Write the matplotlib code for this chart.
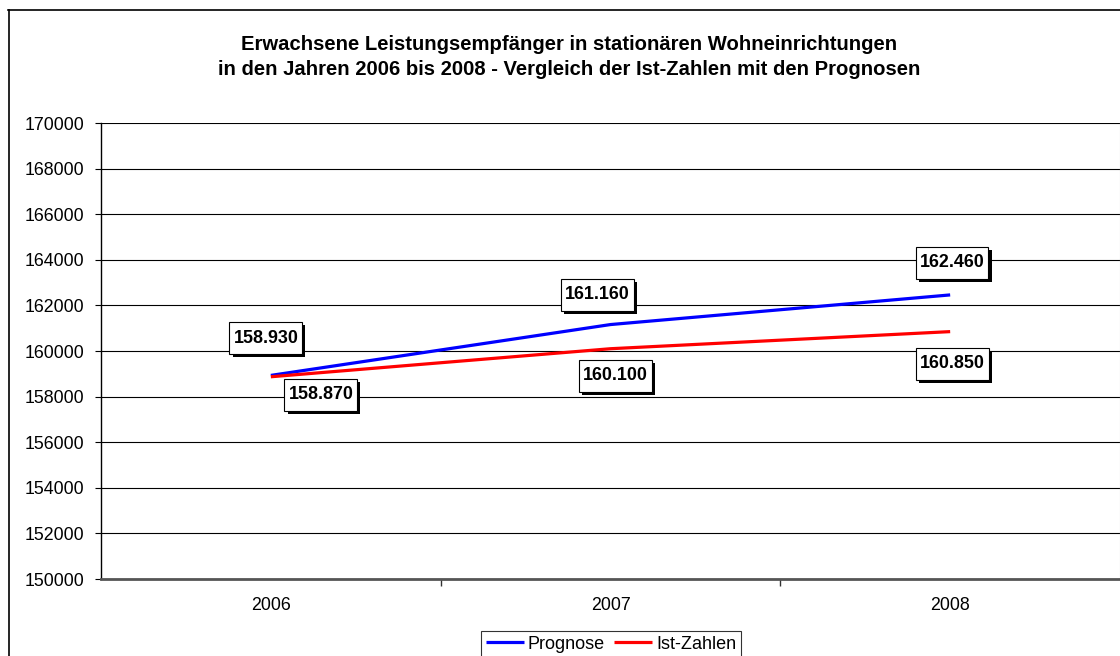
import matplotlib
matplotlib.use("Agg")
import matplotlib.pyplot as plt
import matplotlib.patheffects as pe
from matplotlib.lines import Line2D
from matplotlib.path import Path
from matplotlib.ticker import FormatStrFormatter, FixedLocator

plt.rcParams['font.family'] = ['Liberation Sans', 'DejaVu Sans']

# data
years = ["2006", "2007", "2008"]
prognose = [158930, 161160, 162460]
ist_zahlen = [158870, 160100, 160850]
series_names = ["Prognose", "Ist-Zahlen"]

# label offsets (pixels) from each data point
prog_offsets = [(-5, 37), (-13, 30), (2, 32)]
ist_offsets = [(50, -18), (5, -27), (2, -32)]

title = ("Erwachsene Leistungsempfänger in stationären Wohneinrichtungen\n"
         "in den Jahren 2006 bis 2008 - Vergleich der Ist-Zahlen mit den Prognosen")

W, H = 1120, 656
fig = plt.figure(figsize=(W / 100, H / 100), dpi=100)
ax = fig.add_axes([101 / W, 1 - 579 / H, 1019 / W, 456 / H])

x = list(range(len(years)))
ax.plot(x, prognose, color="#0000FF", lw=2.3, solid_capstyle="butt", zorder=3, label=series_names[0])
ax.plot(x, ist_zahlen, color="#FF0000", lw=2.3, solid_capstyle="butt", zorder=3, label=series_names[1])

ax.set_xlim(-0.5, 2.5)
ax.set_ylim(150000, 170000)
ax.set_yticks(range(150000, 170001, 2000))
ax.yaxis.set_major_formatter(FormatStrFormatter("%d"))
ax.grid(axis="y", color="black", lw=0.8)
ax.set_axisbelow(True)

ax.set_xticks(x)
ax.set_xticklabels(years)
ax.xaxis.set_minor_locator(FixedLocator([0.5, 1.5]))
ax.tick_params(axis="x", which="major", length=0, pad=13, labelsize=12.8)
ax.tick_params(axis="x", which="minor", length=5, width=1, color="#333333")
ax.tick_params(axis="y", length=4, width=0.8, pad=8, labelsize=12.8)

ax.spines["top"].set_visible(False)
ax.spines["right"].set_color("#cccccc")
ax.spines["bottom"].set_color("#555555")
ax.spines["bottom"].set_linewidth(2)
ax.spines["left"].set_linewidth(1)


def fmt(v):
    return f"{v:,}".replace(",", ".")


def label_box(x0, y0, width, height, mutation_size):
    # Excel-like label box: a bit more room above/below than at the sides
    px, py = 0.22 * mutation_size, 0.42 * mutation_size
    x1, y1 = x0 - px, y0 - py
    x2, y2 = x0 + width + px, y0 + height + py
    return Path([(x1, y1), (x2, y1), (x2, y2), (x1, y2), (x1, y1)], closed=True)


def add_label(xi, v, off):
    t = ax.annotate(fmt(v), (xi, v), xytext=(off[0] * 0.72, off[1] * 0.72),
                    textcoords="offset points", ha="center", va="center",
                    fontsize=12.9, fontweight="bold", zorder=5,
                    bbox=dict(boxstyle=label_box, fc="white", ec="black", lw=0.8))
    t.get_bbox_patch().set_path_effects([
        pe.SimplePatchShadow(offset=(2.2, -2.2), shadow_rgbFace="black", alpha=1),
        pe.Normal()])


for xi, v, off in zip(x, prognose, prog_offsets):
    add_label(xi, v, off)
for xi, v, off in zip(x, ist_zahlen, ist_offsets):
    add_label(xi, v, off)

fig.text(569 / W, 1 - 57 / H, title, ha="center", va="center",
         fontsize=14.6, fontweight="bold", linespacing=1.45)

# outer chart border (left and top visible)
fig.add_artist(Line2D([8.5 / W, 8.5 / W], [0, 1 - 10 / H], color="black", lw=1.2))
fig.add_artist(Line2D([8 / W, 1], [1 - 10 / H, 1 - 10 / H], color="black", lw=1.2))

leg = fig.legend(loc="upper center", bbox_to_anchor=(611 / W, 1 - 631 / H),
                 ncol=2, fontsize=13, frameon=True, fancybox=False,
                 handlelength=2.1, handletextpad=0.2, columnspacing=0.55,
                 borderpad=0.25, borderaxespad=0)
leg.get_frame().set_edgecolor("black")
leg.get_frame().set_linewidth(0.8)

fig.savefig("out.png", dpi=100)
